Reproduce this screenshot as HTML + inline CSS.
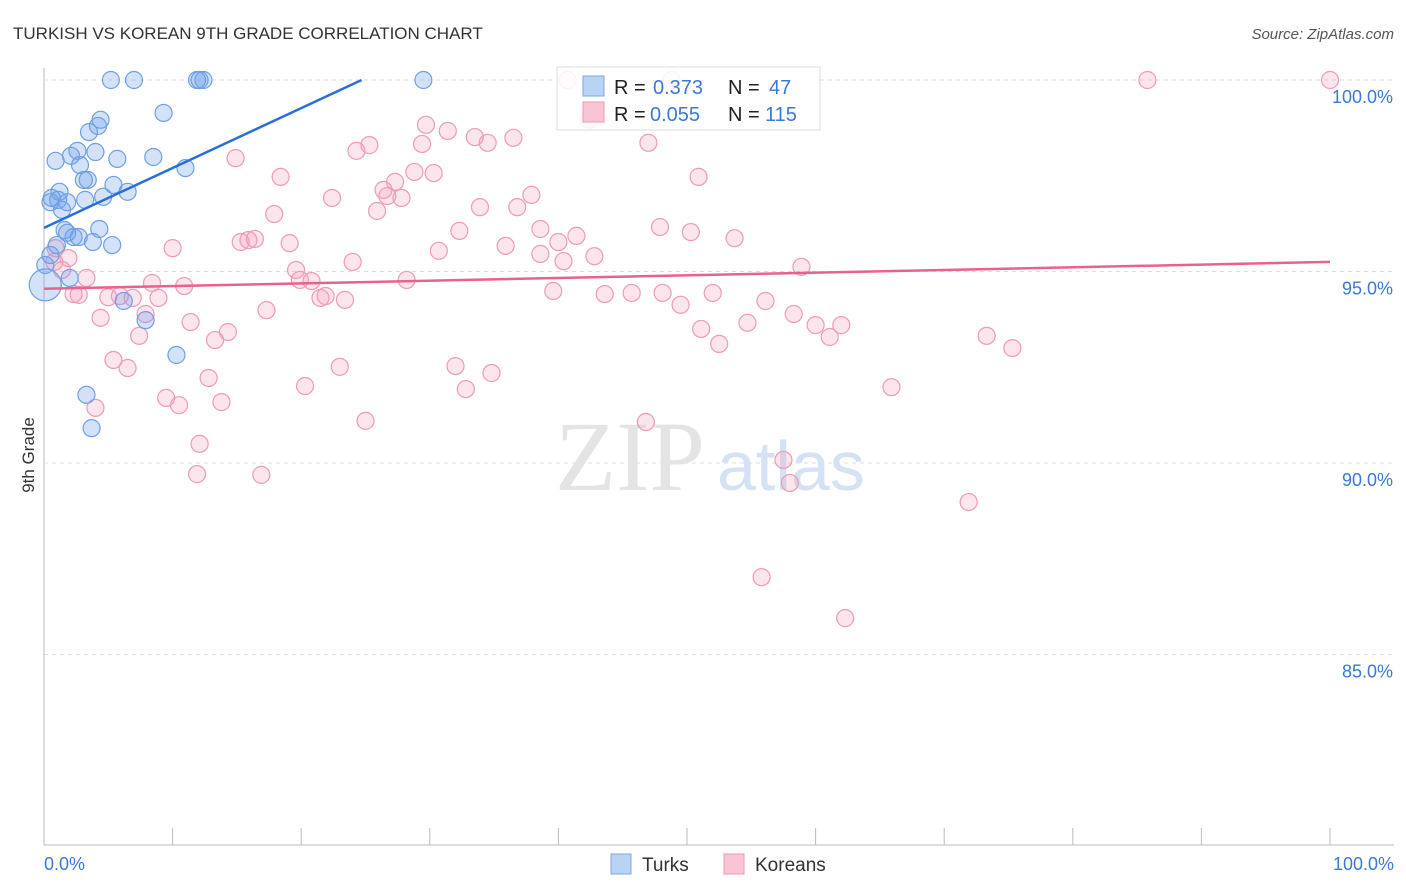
<!DOCTYPE html>
<html><head><meta charset="utf-8">
<style>
body{margin:0;background:#fff;font-family:"Liberation Sans",sans-serif;}
#wrap{position:relative;width:1406px;height:892px;overflow:hidden;}
</style></head>
<body>
<div id="wrap">
<svg id="svg" width="1406" height="892" xmlns="http://www.w3.org/2000/svg">
<text x="13" y="39" font-size="17" fill="#333">TURKISH VS KOREAN 9TH GRADE CORRELATION CHART</text>
<text x="1394" y="39" font-size="15" fill="#555" font-style="italic" text-anchor="end">Source: ZipAtlas.com</text>
<text transform="translate(34,455) rotate(-90)" font-size="17" fill="#333" text-anchor="middle">9th Grade</text>
<g id="grid"></g>
<text x="555" y="490" font-size="100" fill="#e4e4e4" font-family="Liberation Serif,serif">ZIP</text>
<text x="717" y="490" font-size="70" fill="#d4e2f4">atlas</text>
<g id="pts"></g>
<g id="lines"></g>
<g>
<rect x="557" y="67" width="263" height="63" fill="#fff" fill-opacity="0.85" stroke="#ddd"/>
<rect x="583" y="76" width="21" height="20" fill="#b9d3f5" stroke="#7aa7e6"/>
<rect x="583" y="102" width="21" height="20" fill="#f9c4d4" stroke="#ee9ab5"/>
<text x="614" y="94" font-size="20" fill="#222">R = </text><text x="653" y="94" font-size="20" fill="#3b78d8">0.373</text>
<text x="728" y="94" font-size="20" fill="#222">N = </text><text x="769" y="94" font-size="20" fill="#3b78d8">47</text>
<text x="614" y="121" font-size="20" fill="#222">R = </text><text x="650" y="121" font-size="20" fill="#3b78d8">0.055</text>
<text x="728" y="121" font-size="20" fill="#222">N = </text><text x="765" y="121" font-size="20" fill="#3b78d8">115</text>
</g>
<g>
<rect x="611" y="854" width="20" height="20" fill="#b9d3f5" stroke="#7aa7e6"/>
<text x="642" y="871" font-size="19" fill="#333">Turks</text>
<rect x="724" y="854" width="20" height="20" fill="#f9c4d4" stroke="#ee9ab5"/>
<text x="755" y="871" font-size="19" fill="#333">Koreans</text>
</g>
</svg>
</div>
<script>
const yTicks=[100,95,90,85];
const xTickCount=[0,10,20,30,40,50,60,70,80,90,100];
const turksX=[5.2,7.0,11.9,12.1,12.4,29.5,9.3,4.4,4.2,3.5,2.1,2.6,4.0,8.5,5.7,0.9,2.8,11.0,3.1,3.4,5.4,6.5,1.2,0.6,0.5,1.1,1.4,1.8,3.2,4.6,1.6,1.8,4.3,2.3,2.7,3.8,5.3,0.5,0.1,2.0,0.1,6.2,7.9,10.3,3.3,3.7,1.0];
const turksY=[100,100,100,100,100,100,99.14,98.96,98.80,98.64,98.02,98.15,98.12,97.99,97.94,97.89,97.78,97.70,97.39,97.39,97.26,97.08,97.08,96.92,96.81,96.87,96.61,96.81,96.87,96.95,96.08,96.01,96.11,95.90,95.90,95.77,95.69,95.43,95.17,94.83,94.65,94.23,93.73,92.82,91.78,90.91,95.69];
const koreansX=[40.7,85.8,100,48.8,42.4,29.7,31.4,33.5,34.5,36.5,29.4,24.3,25.3,47.0,14.9,18.4,28.8,30.3,50.9,27.3,26.4,37.9,26.7,27.8,22.4,17.9,25.9,33.9,36.8,32.3,38.6,41.4,47.9,50.3,53.7,15.3,15.9,16.4,19.1,10.0,0.9,30.7,35.9,40.0,42.8,38.6,40.4,24.0,1.9,58.9,19.6,19.9,20.8,8.4,10.9,28.2,3.3,0.8,1.4,5.0,2.7,2.3,5.9,6.9,8.9,21.5,21.9,23.4,39.6,43.6,45.7,48.1,49.5,52.0,56.1,17.3,4.4,7.9,11.4,58.3,60.0,62.0,54.7,51.1,14.3,13.3,7.4,61.1,52.5,73.3,75.3,5.4,6.5,23.0,32.0,34.8,12.8,20.3,32.8,65.9,9.5,13.8,10.5,4.0,25.0,46.8,12.1,57.5,11.9,16.9,58.0,71.9,55.8,62.3];
const koreansY=[100,100,100,100,98.96,98.83,98.67,98.51,98.36,98.49,98.33,98.15,98.30,98.36,97.96,97.47,97.60,97.57,97.47,97.34,97.13,97.00,96.97,96.92,96.92,96.50,96.58,96.68,96.68,96.06,96.11,95.93,96.16,96.03,95.87,95.77,95.82,95.85,95.74,95.61,95.61,95.54,95.67,95.77,95.40,95.46,95.27,95.25,95.35,95.12,95.04,94.78,94.75,94.70,94.62,94.78,94.83,95.25,95.04,94.33,94.39,94.41,94.36,94.31,94.31,94.31,94.36,94.26,94.49,94.41,94.44,94.44,94.13,94.44,94.23,93.99,93.79,93.89,93.68,93.89,93.60,93.60,93.66,93.50,93.42,93.21,93.32,93.29,93.11,93.32,93.00,92.69,92.48,92.51,92.53,92.35,92.22,92.01,91.93,91.98,91.70,91.59,91.51,91.44,91.10,91.07,90.50,90.08,89.71,89.69,89.48,88.98,87.02,85.95];
const turksTrend=[96.14,100];   // y at x=0 and x=24.7
const turksTrendX=[0,24.7];
const koreansTrend=[94.55,95.25];
const koreansTrendX=[0,100];

const NS="http://www.w3.org/2000/svg";
const xs=v=>44+v*12.86;
const ys=v=>80+(100-v)*38.3;
function mk(tag,attrs,parent){const e=document.createElementNS(NS,tag);for(const k in attrs)e.setAttribute(k,attrs[k]);parent.appendChild(e);return e;}
const grid=document.getElementById('grid');
let ax=mk('line',{x1:44,y1:68,x2:44,y2:845,stroke:'#bbb'},grid);


let bx=mk('line',{x1:44,y1:845,x2:1394,y2:845,stroke:'#bbb'},grid);


yTicks.forEach(t=>{
  const g=mk('line',{x1:44,y1:ys(t),x2:1394,y2:ys(t),stroke:'#ddd','stroke-dasharray':'4,4'},grid);
  
  
  const tx=mk('text',{x:1393,y:ys(t)+23,'font-size':18,fill:'#3b78d8','text-anchor':'end'},grid);
  tx.textContent=t.toFixed(1)+'%';
  
  
});
xTickCount.forEach(t=>{
  const l=mk('line',{x1:xs(t),y1:828,x2:xs(t),y2:845,stroke:'#bbb'},grid);
  
  
});
const xl0=mk('text',{x:44,y:870,'font-size':18,fill:'#3b78d8'},grid);xl0.textContent='0.0%';


const xl1=mk('text',{x:1394,y:870,'font-size':18,fill:'#3b78d8','text-anchor':'end'},grid);xl1.textContent='100.0%';



const pts=document.getElementById('pts');
koreansX.forEach((x,i)=>{
  const c=mk('circle',{cx:xs(x),cy:ys(koreansY[i]),r:8.5,fill:'rgba(245,160,190,0.28)',stroke:'#ef9ab6','stroke-width':1.2},pts);
  
  
});
turksX.forEach((x,i)=>{
  const big=(i===40);
  const c=mk('circle',{cx:xs(x),cy:ys(turksY[i]),r:big?16:8.5,fill:'rgba(110,160,235,0.3)',stroke:'#6fa0e4','stroke-width':1.2},pts);
  
  
});
const lines=document.getElementById('lines');
const tl=mk('line',{x1:xs(turksTrendX[0]),y1:ys(turksTrend[0]),x2:xs(turksTrendX[1]),y2:ys(turksTrend[1]),stroke:'#2a6fd6','stroke-width':2.5},lines);


const kl=mk('line',{x1:xs(koreansTrendX[0]),y1:ys(koreansTrend[0]),x2:xs(koreansTrendX[1]),y2:ys(koreansTrend[1]),stroke:'#e8628f','stroke-width':2.5},lines);


</script>
</body></html>
